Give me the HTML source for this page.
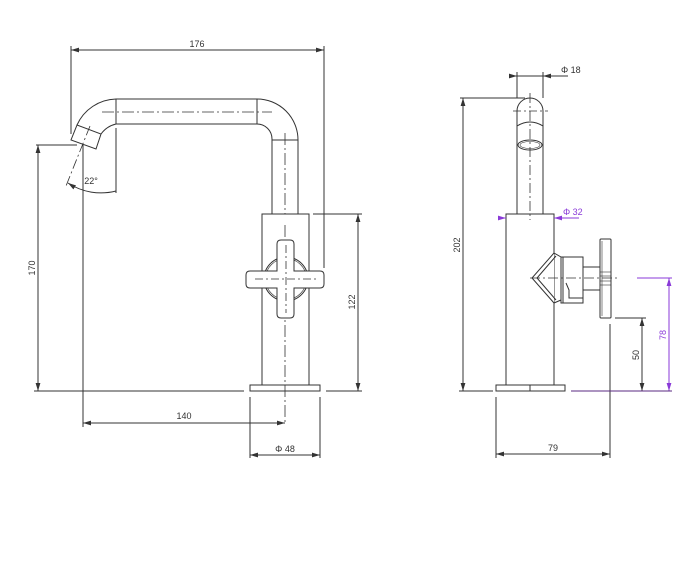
<!DOCTYPE html>
<html><head><meta charset="utf-8"><style>
html,body{margin:0;padding:0;background:#fff}
svg{display:block}
text{font-family:"Liberation Sans",sans-serif;font-size:9px;fill:#333}
</style></head><body>
<svg width="691" height="587" viewBox="0 0 691 587" xmlns="http://www.w3.org/2000/svg">
<defs>
<marker id="a" viewBox="0 0 10 6" refX="10" refY="3" markerWidth="8" markerHeight="5" orient="auto-start-reverse" markerUnits="userSpaceOnUse"><path d="M0,0L10,3L0,6z" fill="#333"/></marker>
<marker id="p" viewBox="0 0 10 6" refX="10" refY="3" markerWidth="8" markerHeight="5" orient="auto-start-reverse" markerUnits="userSpaceOnUse"><path d="M0,0L10,3L0,6z" fill="#8a3ad8"/></marker>
</defs>
<g fill="none" stroke="#333" stroke-width="1">
<!-- LEFT VIEW -->
<!-- 176 -->
<line x1="71" y1="50" x2="324" y2="50" marker-start="url(#a)" marker-end="url(#a)"/>
<line x1="71" y1="46" x2="71" y2="134"/>
<line x1="324" y1="46" x2="324" y2="268"/>
<!-- spout -->
<path d="M116,99 L257,99 A41,41 0 0 1 298,140 L298,214"/>
<path d="M116,124 L257,124 A15,15 0 0 1 272,139 L272,214"/>
<path d="M116,99 A44,44 0 0 0 77,125"/>
<path d="M116,124 A26,26 0 0 0 101,134"/>
<line x1="116" y1="99" x2="116" y2="124"/>
<line x1="257" y1="99" x2="257" y2="124"/>
<line x1="272" y1="140" x2="298" y2="140"/>
<path d="M77,125 L71,140 L96,149 L101,134 Z"/>
<line x1="102" y1="112" x2="272" y2="112" stroke-dasharray="12,3,2,3" stroke-width="0.8"/>
<line x1="285" y1="133" x2="285" y2="214" stroke-dasharray="12,3,2,3" stroke-width="0.8"/>
<line x1="90" y1="126" x2="66" y2="186" stroke-dasharray="10,3,2,3" stroke-width="0.8"/>
<line x1="116" y1="128" x2="116" y2="193"/>
<path d="M68,183 A60,60 0 0 0 116,191" marker-start="url(#a)"/>
<!-- 170 -->
<line x1="36" y1="145" x2="77" y2="145"/>
<line x1="38" y1="145" x2="38" y2="391" marker-start="url(#a)" marker-end="url(#a)"/>
<line x1="34" y1="391" x2="244" y2="391"/>
<line x1="326" y1="391" x2="362" y2="391"/>
<!-- body -->
<rect x="262" y="214" width="47" height="171"/>
<rect x="250" y="385" width="70" height="6"/>
<line x1="285" y1="225" x2="285" y2="423" stroke-dasharray="12,3,2,3" stroke-width="0.8"/>
<!-- cross -->
<circle cx="286" cy="279" r="22"/>
<circle cx="286" cy="279" r="20.5" stroke-width="0.6"/>
<path d="M277,244 Q277,240 281,240 L290,240 Q294,240 294,244 L294,271 L320,271 Q324,271 324,275 L324,284 Q324,288 320,288 L294,288 L294,314 Q294,318 290,318 L281,318 Q277,318 277,314 L277,288 L250,288 Q246,288 246,284 L246,275 Q246,271 250,271 L277,271 Z" fill="#fff"/>
<line x1="255" y1="279" x2="317" y2="279" stroke-dasharray="8,3,2,3" stroke-width="0.8"/>
<line x1="286" y1="245" x2="286" y2="313" stroke-dasharray="8,3,2,3" stroke-width="0.8"/>
<!-- 122 -->
<line x1="313" y1="214" x2="362" y2="214"/>
<line x1="358" y1="214" x2="358" y2="391" marker-start="url(#a)" marker-end="url(#a)"/>
<!-- 140 -->
<line x1="83" y1="145" x2="83" y2="427"/>
<line x1="83" y1="423" x2="285" y2="423" marker-start="url(#a)" marker-end="url(#a)"/>
<!-- phi48 -->
<line x1="250" y1="397" x2="250" y2="458"/>
<line x1="320" y1="397" x2="320" y2="458"/>
<line x1="250" y1="455" x2="320" y2="455" marker-start="url(#a)" marker-end="url(#a)"/>

<!-- RIGHT VIEW -->
<line x1="517" y1="72" x2="517" y2="98"/>
<line x1="543" y1="72" x2="543" y2="98"/>
<line x1="510" y1="76" x2="517" y2="76" marker-end="url(#a)"/>
<line x1="568" y1="76" x2="543" y2="76" marker-end="url(#a)"/>
<line x1="517" y1="76" x2="543" y2="76"/>
<path d="M517,214 L517,111 A13,13 0 0 1 543,111 L543,214"/>
<path d="M517,126 Q530,118 543,126"/>
<ellipse cx="530" cy="145" rx="12" ry="5"/>
<ellipse cx="530" cy="145" rx="10" ry="3.5" stroke-width="0.6"/>
<line x1="530" y1="93" x2="530" y2="220" stroke-dasharray="10,3,2,3" stroke-width="0.8"/>
<line x1="513" y1="111" x2="548" y2="111" stroke-dasharray="8,3,2,3" stroke-width="0.8"/>
<!-- 202 -->
<line x1="460" y1="98" x2="525" y2="98"/>
<line x1="463" y1="98" x2="463" y2="391" marker-start="url(#a)" marker-end="url(#a)"/>
<line x1="459" y1="391" x2="493" y2="391"/>
<!-- body -->
<rect x="506" y="214" width="48" height="171"/>
<rect x="496" y="385" width="69" height="6"/>
<line x1="530" y1="385" x2="530" y2="391"/>
<!-- valve -->
<path d="M554,253 L532,278 L554,303" fill="#fff"/>
<path d="M556,256 L537,278 L556,300"/>
<line x1="554" y1="253" x2="561" y2="257"/>
<line x1="554" y1="303" x2="561" y2="300"/>
<rect x="561" y="257" width="22" height="46" fill="#fff"/>
<line x1="563" y1="257" x2="563" y2="303"/>
<path d="M566,283 L569,290 L569,298 L583,298"/>
<rect x="583" y="267" width="17" height="23" fill="#fff"/>
<rect x="600" y="239" width="11" height="79" rx="1" fill="#fff"/>
<line x1="602" y1="241" x2="602" y2="316" stroke-width="0.6"/>
<line x1="600" y1="272" x2="611" y2="272" stroke-width="0.6"/>
<line x1="600" y1="276" x2="611" y2="276" stroke-width="0.6"/>
<line x1="600" y1="281" x2="611" y2="281" stroke-width="0.6"/>
<line x1="600" y1="285" x2="611" y2="285" stroke-width="0.6"/>
<line x1="530" y1="278" x2="620" y2="278" stroke-dasharray="10,3,2,3" stroke-width="0.8"/>
<!-- 50 -->
<line x1="615" y1="318" x2="646" y2="318"/>
<line x1="642" y1="318" x2="642" y2="391" marker-start="url(#a)" marker-end="url(#a)"/>
<line x1="610" y1="324" x2="610" y2="458"/>
<!-- 79 -->
<line x1="496" y1="397" x2="496" y2="458"/>
<line x1="496" y1="454" x2="610" y2="454" marker-start="url(#a)" marker-end="url(#a)"/>
</g>
<!-- purple dims -->
<g fill="none" stroke="#8a3ad8" stroke-width="1">
<line x1="499" y1="218" x2="506" y2="218" marker-end="url(#p)"/>
<line x1="579" y1="218" x2="554" y2="218" marker-end="url(#p)"/>
<line x1="637" y1="278" x2="672" y2="278"/>
<line x1="669" y1="278" x2="669" y2="391" marker-start="url(#p)" marker-end="url(#p)"/>
<line x1="571" y1="391" x2="672" y2="391" stroke="#5a2a80"/>
</g>
<!-- labels -->
<text x="197" y="47" text-anchor="middle">176</text>
<text x="91" y="184" text-anchor="middle" font-size="9">22°</text>
<text x="184" y="419" text-anchor="middle">140</text>
<text x="285" y="452" text-anchor="middle">Φ 48</text>
<text transform="translate(35,268) rotate(-90)" text-anchor="middle">170</text>
<text transform="translate(355,302) rotate(-90)" text-anchor="middle">122</text>
<text x="561" y="73">Φ 18</text>
<text x="563" y="215" style="fill:#8a3ad8">Φ 32</text>
<text transform="translate(460,245) rotate(-90)" text-anchor="middle">202</text>
<text transform="translate(639,355) rotate(-90)" text-anchor="middle">50</text>
<text transform="translate(666,335) rotate(-90)" text-anchor="middle" style="fill:#8a3ad8">78</text>
<text x="553" y="451" text-anchor="middle">79</text>
</svg>
</body></html>
